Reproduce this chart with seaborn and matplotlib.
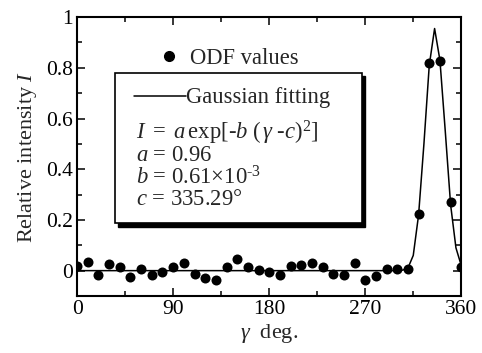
#! /usr/bin/env python3

import seaborn as sns
import pandas as pd
import numpy as np
import matplotlib
matplotlib.use('Agg')

import matplotlib.pyplot as plt
from matplotlib.lines import Line2D
from matplotlib.patches import Rectangle
from matplotlib.ticker import MultipleLocator

# ODF values, read every 10 deg
gamma = list(range(0, 361, 10))
odf = [0.020, 0.036, -0.017, 0.028, 0.013, -0.024, 0.005, -0.019, -0.004, 0.016,
       0.032, -0.013, -0.029, -0.037, 0.016, 0.045, 0.015, 0.003, -0.007, -0.019,
       0.020, 0.021, 0.032, 0.015, -0.013, -0.017, 0.032, -0.037, -0.021, 0.008,
       0.008, 0.005, 0.225, 0.820, 0.825, 0.270, 0.016]

# gaussian fitting curve
fit_gamma = [0, 300, 305, 310, 315, 320, 325, 330, 335, 340, 345, 350, 355, 360]
fit_int = [0.0, 0.0, 0.002, 0.01, 0.06, 0.22, 0.50, 0.81, 0.955, 0.83, 0.55, 0.26, 0.09, 0.02]

fit_text = ['$I\\ =\\ a\\,\\mathrm{exp}[\u2010b\\ (\\,\\gamma\\ \u2010c)^2]$',
            '$a$ = 0.96',
            '$b$ = 0.61$\\times$10$^{\u20103}$',
            '$c$ = 335.29°']

sns.set_style('ticks')
plt.rcParams['font.family'] = ['Liberation Serif', 'DejaVu Serif']
plt.rcParams['mathtext.fontset'] = 'custom'
plt.rcParams['mathtext.rm'] = 'Liberation Serif'
plt.rcParams['mathtext.it'] = 'Liberation Serif:italic'
plt.rcParams['mathtext.bf'] = 'Liberation Serif:bold'

df = pd.DataFrame({'gamma': gamma, 'odf': odf})
fit = pd.DataFrame({'gamma': fit_gamma, 'I': fit_int})

fig = plt.figure(figsize=(4.82, 3.53), dpi=100)
ax = fig.add_axes([0.16, 0.1615, 0.797, 0.79])

sns.lineplot(x='gamma', y='I', data=fit, ax=ax, color='black', linewidth=1.1, sort=False)
sns.scatterplot(x='gamma', y='odf', data=df, ax=ax, color='black', s=52, edgecolor='black',
                linewidth=0, zorder=3)

ax.set_xlim(0, 360)
ax.set_ylim(-0.1, 1.0)
ax.xaxis.set_major_locator(MultipleLocator(90))
ax.xaxis.set_minor_locator(MultipleLocator(45))
ax.yaxis.set_minor_locator(MultipleLocator(0.1))
ax.set_yticks([0, 0.2, 0.4, 0.6, 0.8, 1.0])
ax.set_yticklabels(['0', '0.2', '0.4', '0.6', '0.8', '1'])
ax.tick_params(which='both', direction='in', top=True, right=True, width=1.1,
               labelsize=15.5, colors='black', pad=3)
ax.tick_params(which='major', length=6)
ax.tick_params(which='minor', length=3.5)
for s in ax.spines.values():
    s.set_linewidth(1.5)
    s.set_color('black')

ax.set_xlabel('$\\gamma$  deg.', fontsize=16, labelpad=2)
ax.set_ylabel('Relative intensity $I$', fontsize=16, labelpad=5)

# legend for points, no frame
odf_handle = Line2D([], [], marker='o', color='black', linestyle='', markersize=7)
leg1 = ax.legend([odf_handle], ['ODF values'], loc='center left', bbox_to_anchor=(0.215, 0.852),
                 frameon=False, fontsize=16.3, handletextpad=0.55, borderpad=0, borderaxespad=0,
                 handlelength=0.8)
ax.add_artist(leg1)

# framed box with thin shadow
ax.add_patch(Rectangle((0.107, 0.249), 0.643, 0.54, transform=ax.transAxes,
                       facecolor='black', edgecolor='black', zorder=4))
ax.add_patch(Rectangle((0.099, 0.26), 0.643, 0.54, transform=ax.transAxes,
                       facecolor='white', edgecolor='black', linewidth=1.2, zorder=5))
fit_handle = Line2D([], [], color='black', linewidth=1.1)
leg2 = ax.legend([fit_handle], ['Gaussian fitting'], loc='center left',
                 bbox_to_anchor=(0.148, 0.71), frameon=False, fontsize=16.3,
                 handlelength=2.3, handletextpad=0.0, borderpad=0, borderaxespad=0)
leg2.set_zorder(6)

ys = [0.585, 0.503, 0.425, 0.345]
for t, y in zip(fit_text, ys):
    ax.text(0.152, y, t, transform=ax.transAxes, fontsize=16.3, va='center', ha='left', zorder=6)

plt.savefig('out.png', dpi=100)
